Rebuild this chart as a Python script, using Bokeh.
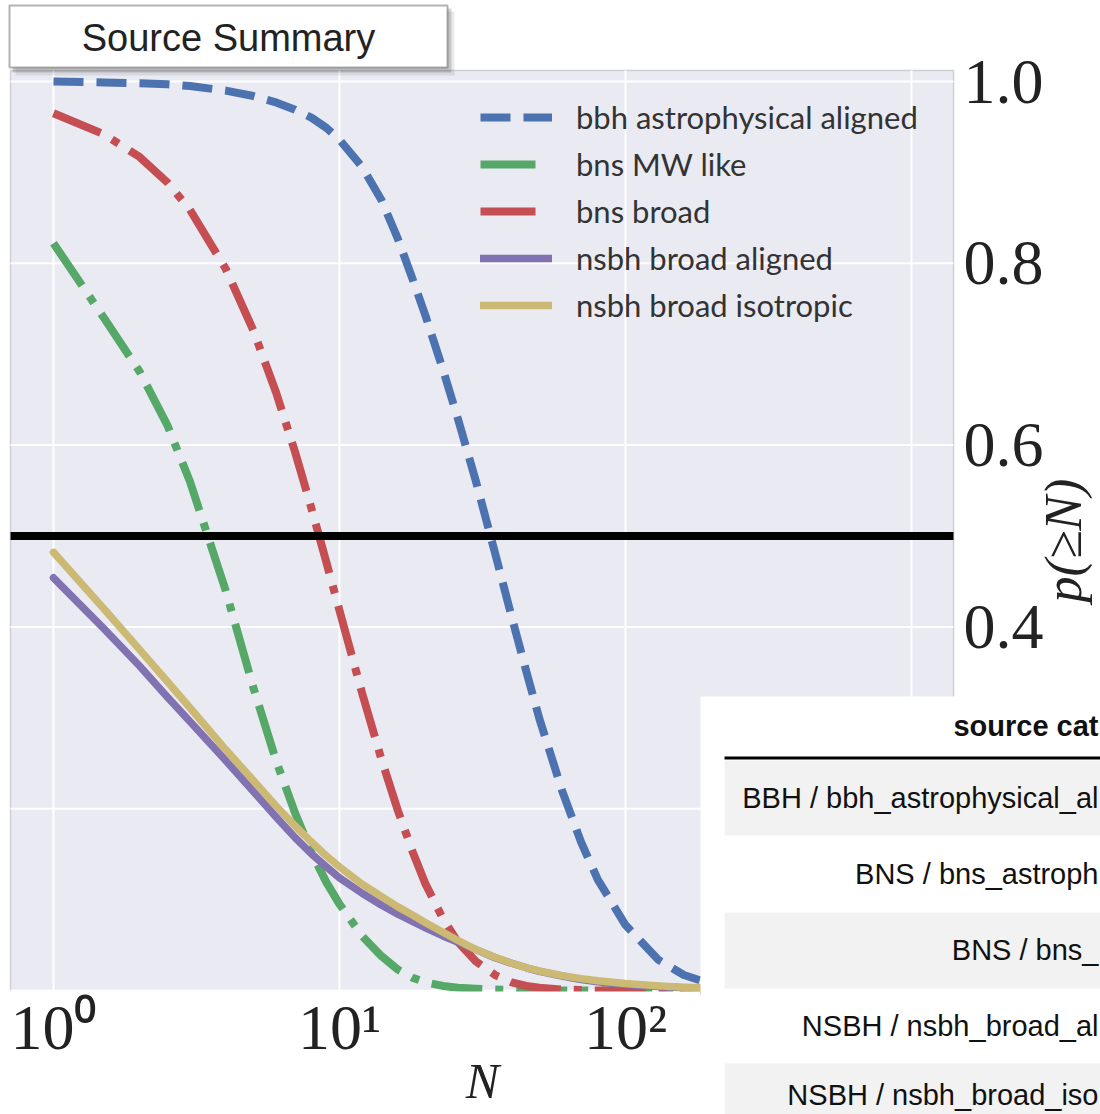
from math import pi
from bokeh.plotting import figure
from bokeh.models import (Legend, LegendItem, BoxAnnotation, Label, Range1d,
                          LogScale)
from bokeh.embed import file_html
from bokeh.resources import INLINE

# ---------------- data ----------------
N = [1, 1.5, 2, 2.5, 3, 4, 5, 6, 7, 8, 9, 10, 12, 14, 16, 18, 20, 23, 26, 30,
     35, 40, 45, 50, 60, 70, 80, 100, 130, 160, 200, 300, 500, 1000, 1400]

bbh_astrophysical_aligned = [
    1.000, 0.999, 0.998, 0.997, 0.995, 0.990, 0.984, 0.977, 0.969, 0.960,
    0.949, 0.936, 0.906, 0.870, 0.827, 0.783, 0.742, 0.683, 0.628, 0.560,
    0.481, 0.411, 0.351, 0.299, 0.220, 0.163, 0.122, 0.072, 0.034, 0.017,
    0.007, 0.001, 0.0, 0.0, 0.0]

bns_mw_like = [
    0.822, 0.740, 0.681, 0.622, 0.560, 0.440, 0.333, 0.253, 0.195, 0.151,
    0.119, 0.095, 0.060, 0.038, 0.023, 0.014, 0.009, 0.005, 0.003, 0.002,
    0.001, 0.0005, 0.0, 0.0, 0.0, 0.0, 0.0, 0.0, 0.0, 0.0,
    0.0, 0.0, 0.0, 0.0, 0.0]

bns_broad = [
    0.965, 0.942, 0.917, 0.889, 0.859, 0.794, 0.726, 0.658, 0.592, 0.529,
    0.471, 0.418, 0.327, 0.255, 0.198, 0.153, 0.117, 0.079, 0.053, 0.032,
    0.017, 0.009, 0.005, 0.003, 0.001, 0.0005, 0.0, 0.0, 0.0, 0.0,
    0.0, 0.0, 0.0, 0.0, 0.0]

nsbh_broad_aligned = [
    0.454, 0.398, 0.357, 0.323, 0.296, 0.253, 0.219, 0.191, 0.168, 0.150,
    0.136, 0.124, 0.107, 0.094, 0.084, 0.076, 0.069, 0.060, 0.053, 0.045,
    0.036, 0.030, 0.025, 0.021, 0.016, 0.012, 0.0095, 0.0066, 0.0043, 0.0031,
    0.0022, 0.0011, 0.0005, 0.0, 0.0]

nsbh_broad_isotropic = [
    0.482, 0.420, 0.375, 0.340, 0.311, 0.265, 0.231, 0.203, 0.181, 0.163,
    0.148, 0.136, 0.117, 0.1035, 0.092, 0.083, 0.0745, 0.064, 0.055, 0.045,
    0.0365, 0.030, 0.025, 0.0215, 0.0164, 0.0131, 0.0107, 0.0076, 0.0051,
    0.0037, 0.0027, 0.0013, 0.0004, 0.0, 0.0]

SERIES_LABELS = ["bbh astrophysical aligned", "bns MW like", "bns broad",
                 "nsbh broad aligned", "nsbh broad isotropic"]
THRESHOLD = 0.5

X_TICKS = [1, 10, 100]
X_TICK_LABELS = ["10\u2070", "10\u00b9", "10\u00b2"]
X_GRID = [1, 10, 100, 1000]
Y_TICKS = [0.4, 0.6, 0.8, 1.0]
Y_TICK_LABELS = ["0.4", "0.6", "0.8", "1.0"]
Y_GRID = [0.0, 0.2, 0.4, 0.6, 0.8, 1.0]
X_LABEL = "N"
Y_LABEL = "p(\u2265N)"

# extent of the plotting area (data units)
PLOT_X = (0.7075, 1402.6)
PLOT_Y = (0.0, 1.0121)

PANEL_TITLE = "Source Summary"
TABLE_HEADER = "source cat"
TABLE_ROWS = ["BBH / bbh_astrophysical_al", "BNS / bns_astroph", "BNS / bns_",
              "NSBH / nsbh_broad_al", "NSBH / nsbh_broad_iso"]

# ---------------- figure ----------------
W, H = 1100, 1114
p = figure(width=W, height=H, x_axis_type="log",
           x_axis_location=None, y_axis_location=None,
           x_range=Range1d(0.6527, 4580), y_range=Range1d(-0.13641, 1.08911),
           output_backend="svg", toolbar_location=None, min_border=0)
p.x_scale = LogScale()
p.title.visible = False
for g in p.grid:
    g.visible = False
p.background_fill_color = "white"
p.border_fill_color = "white"
p.outline_line_color = None

serif = "Liberation Serif"
sans = "Liberation Sans"
ink = "#222222"

# plotting-area background and grid
p.quad(left=[PLOT_X[0]], right=[PLOT_X[1]], bottom=[PLOT_Y[0]],
       top=[PLOT_Y[1]], fill_color="#EAEAF2", line_color="#cfcfd6",
       line_width=1.5)
p.segment(x0=X_GRID, x1=X_GRID, y0=[PLOT_Y[0]] * len(X_GRID),
          y1=[PLOT_Y[1]] * len(X_GRID), line_color="white", line_width=2)
p.segment(x0=[PLOT_X[0]] * len(Y_GRID), x1=[PLOT_X[1]] * len(Y_GRID),
          y0=Y_GRID, y1=Y_GRID, line_color="white", line_width=2)

colors = ["#4C72B0", "#55A868", "#C44E52", "#8172B2", "#CCB974"]
dashes = ["30 13", "51 13 8 13", "51 13 8 13", "solid", "solid"]
widths = [8, 8, 8, 7.5, 7.5]
series = [bbh_astrophysical_aligned, bns_mw_like, bns_broad,
          nsbh_broad_aligned, nsbh_broad_isotropic]
renderers = []
for ys, c, d, w in zip(series, colors, dashes, widths):
    r = p.line(N, ys, line_color=c, line_width=w, line_dash=d,
               line_cap="butt" if d != "solid" else "round",
               line_join="round")
    renderers.append(r)

# threshold line across the plotting area
p.segment(x0=[PLOT_X[0]], x1=[PLOT_X[1]], y0=[THRESHOLD], y1=[THRESHOLD],
          line_color="black", line_width=8)

# legend handles as matplotlib draws them (first dash only for dash-dot)
nan = float("nan")
handle_green = p.line([N[0]], [nan], line_color=colors[1], line_width=8,
                      line_dash="55 100")
handle_red = p.line([N[0]], [nan], line_color=colors[2], line_width=8,
                    line_dash="55 100")
handles = [renderers[0], handle_green, handle_red, renderers[3], renderers[4]]
legend = Legend(items=[LegendItem(label=l, renderers=[r])
                       for l, r in zip(SERIES_LABELS, handles)],
                location=(480, H - 325), padding=0, margin=0,
                glyph_width=72, glyph_height=40, label_height=40,
                label_standoff=24, spacing=7,
                label_text_font="Lato", label_text_font_size="31px",
                label_text_color="#333333",
                background_fill_alpha=0, border_line_color=None)
p.add_layout(legend)


def cbox(l, r, t, b, **kw):
    return BoxAnnotation(left=l, right=r, top=t, bottom=b,
                         left_units="canvas", right_units="canvas",
                         top_units="canvas", bottom_units="canvas", **kw)


def label(x, y, text, xu="canvas", yu="canvas", **kw):
    return Label(x=x, y=y, x_units=xu, y_units=yu, text=text, **kw)


# keep line ends from spilling below the plotting area
p.add_layout(cbox(0, 700, 991, H, fill_color="white", fill_alpha=1,
                  line_color=None))

# tick labels (positions from the data scales)
for t, s in zip(X_TICKS, X_TICK_LABELS):
    p.add_layout(label(t, 1027, s, xu="data", text_font=serif,
                       text_font_size="64px", text_color=ink,
                       text_align="center", text_baseline="middle"))
for t, s in zip(Y_TICKS, Y_TICK_LABELS):
    p.add_layout(label(963, t, s, yu="data", text_font=serif,
                       text_font_size="64px", text_color=ink,
                       text_align="left", text_baseline="middle"))

# axis titles
p.add_layout(label(482, 1080, X_LABEL, text_font=serif,
                   text_font_style="italic", text_font_size="50px",
                   text_color=ink, text_align="center",
                   text_baseline="middle"))
p.add_layout(label(1034, 540, Y_LABEL, text_font=serif,
                   text_font_style="italic", text_font_size="52px",
                   text_color=ink, text_align="center", text_baseline="top",
                   angle=pi / 2))

# "Source Summary" panel with drop shadow
p.add_layout(cbox(15, 454, 11, 75, fill_color="black", fill_alpha=0.08,
                  line_color=None))
p.add_layout(cbox(12, 451, 8, 72, fill_color="black", fill_alpha=0.16,
                  line_color=None))
p.add_layout(cbox(9, 447, 5, 67, fill_color="white", fill_alpha=1,
                  line_color="black", line_width=2))
p.add_layout(label(228, 37, PANEL_TITLE, text_font=sans,
                   text_font_size="38px", text_color=ink,
                   text_align="center", text_baseline="middle"))

# summary table overlay
p.add_layout(cbox(700, W, 696, H, fill_color="white", fill_alpha=1,
                  line_color=None))
for t, b in [(760, 835), (912, 988), (1063, H)]:
    p.add_layout(cbox(724, W, t, b, fill_color="#f2f2f2", fill_alpha=1,
                      line_color=None))
p.add_layout(cbox(724, W, 756, 759, fill_color="black", fill_alpha=1,
                  line_color=None))
p.add_layout(label(1098, 725, TABLE_HEADER, text_font=sans,
                   text_font_style="bold", text_font_size="29px",
                   text_color="#111111", text_align="right",
                   text_baseline="middle"))
row_y = [797, 873, 949, 1025, 1094]
for y, t in zip(row_y, TABLE_ROWS):
    p.add_layout(label(1098, y, t, text_font=sans, text_font_size="29px",
                       text_color="#111111", text_align="right",
                       text_baseline="middle"))

open("out.html", "w").write(file_html(p, INLINE))
